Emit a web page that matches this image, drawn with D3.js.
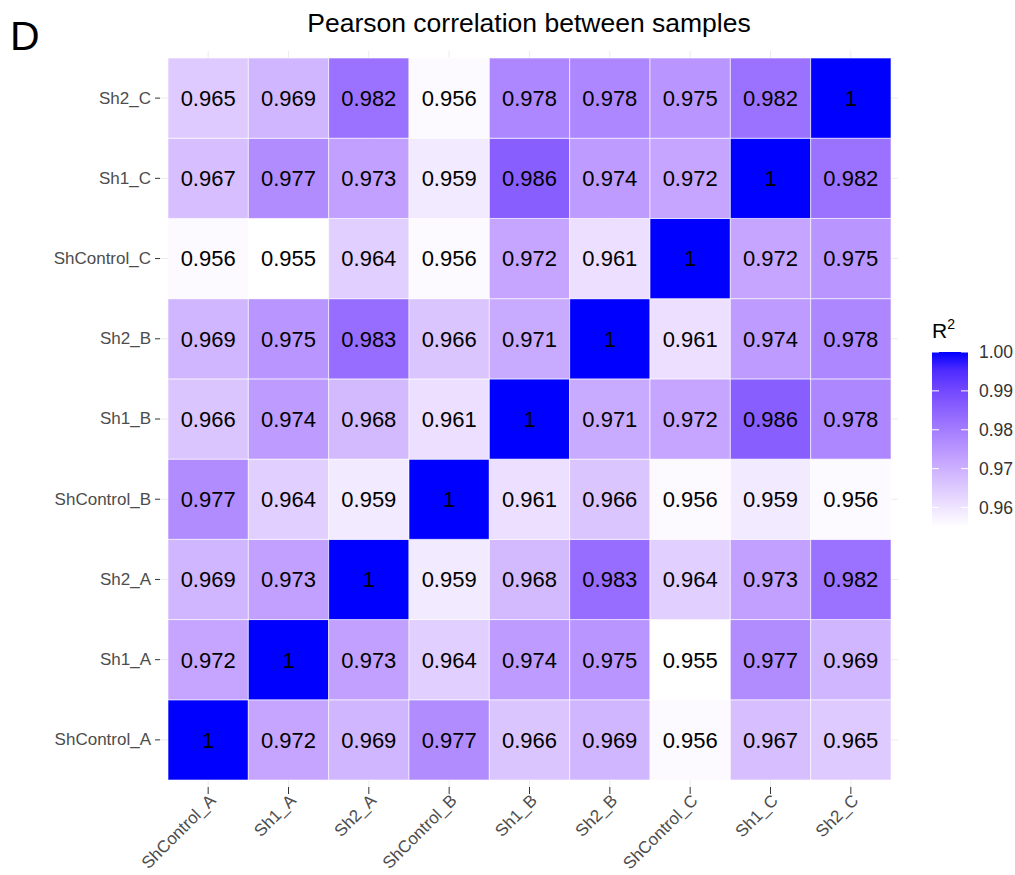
<!DOCTYPE html>
<meta charset="utf-8">
<style>
body { margin: 0; background: #fff; font-family: "Liberation Sans", Arial, sans-serif; }
.grid line { stroke: #ebebeb; stroke-width: 1px; }
.axis text { fill: #4d4d4d; font-size: 17px; }
.axis line { stroke: #333; }
</style>
<body>
<script src="https://d3js.org/d3.v7.min.js"></script>
<script>
// sample names, same order on both axes (y from bottom to top)
var samples = ["ShControl_A", "Sh1_A", "Sh2_A", "ShControl_B", "Sh1_B", "Sh2_B", "ShControl_C", "Sh1_C", "Sh2_C"];

// correlation rows, one per sample, columns in the same order
var rowShControl_A = [1, 0.972, 0.969, 0.977, 0.966, 0.969, 0.956, 0.967, 0.965];
var rowSh1_A       = [0.972, 1, 0.973, 0.964, 0.974, 0.975, 0.955, 0.977, 0.969];
var rowSh2_A       = [0.969, 0.973, 1, 0.959, 0.968, 0.983, 0.964, 0.973, 0.982];
var rowShControl_B = [0.977, 0.964, 0.959, 1, 0.961, 0.966, 0.956, 0.959, 0.956];
var rowSh1_B       = [0.966, 0.974, 0.968, 0.961, 1, 0.971, 0.972, 0.986, 0.978];
var rowSh2_B       = [0.969, 0.975, 0.983, 0.966, 0.971, 1, 0.961, 0.974, 0.978];
var rowShControl_C = [0.956, 0.955, 0.964, 0.956, 0.972, 0.961, 1, 0.972, 0.975];
var rowSh1_C       = [0.967, 0.977, 0.973, 0.959, 0.986, 0.974, 0.972, 1, 0.982];
var rowSh2_C       = [0.965, 0.969, 0.982, 0.956, 0.978, 0.978, 0.975, 0.982, 1];
var rows = [rowShControl_A, rowSh1_A, rowSh2_A, rowShControl_B, rowSh1_B, rowSh2_B, rowShControl_C, rowSh1_C, rowSh2_C];

var legendTicks = [0.96, 0.97, 0.98, 0.99, 1.00];

var cells = [];
rows.forEach(function(r, i) {
  r.forEach(function(v, j) {
    cells.push({row: samples[i], col: samples[j], value: v});
  });
});

var svg = d3.select("body").append("svg").attr("width", 1015).attr("height", 875);

// panel area
var tileL = 168, tileR = 891, tileT = 58, tileB = 780;
var panL = 160, panR = 898, panT = 51, panB = 787;

var x = d3.scaleBand().domain(samples).range([tileL, tileR]);
var y = d3.scaleBand().domain(samples).range([tileB, tileT]);

var vmin = d3.min(cells, d => d.value), vmax = d3.max(cells, d => d.value);
var color = d3.scaleLinear().domain([vmin, vmax]).range(["white", "blue"]).interpolate(d3.interpolateLab);

// grid lines
var grid = svg.append("g").attr("class", "grid");
grid.selectAll(".gx").data(samples).join("line")
  .attr("x1", d => x(d) + x.bandwidth() / 2).attr("x2", d => x(d) + x.bandwidth() / 2)
  .attr("y1", panT).attr("y2", panB);
grid.selectAll(".gy").data(samples).join("line")
  .attr("y1", d => y(d) + y.bandwidth() / 2).attr("y2", d => y(d) + y.bandwidth() / 2)
  .attr("x1", panL).attr("x2", panR);

// tiles
svg.append("g").selectAll("rect").data(cells).join("rect")
  .attr("x", d => x(d.col)).attr("y", d => y(d.row))
  .attr("width", x.bandwidth()).attr("height", y.bandwidth())
  .attr("fill", d => color(d.value))
  .attr("stroke", "white").attr("stroke-opacity", 0.6).attr("stroke-width", 1);

svg.append("g").selectAll("text").data(cells).join("text")
  .attr("x", d => x(d.col) + x.bandwidth() / 2)
  .attr("y", d => y(d.row) + y.bandwidth() / 2)
  .attr("dy", "0.36em")
  .attr("text-anchor", "middle")
  .style("font-size", "22px").style("fill", "#000")
  .text(d => d.value === 1 ? "1" : d3.format(".3f")(d.value));

// axes
var xAxis = svg.append("g").attr("class", "axis").attr("transform", "translate(0," + panB + ")")
  .call(d3.axisBottom(x).tickSize(7).tickPadding(4));
xAxis.select(".domain").remove();
xAxis.selectAll("text")
  .attr("text-anchor", "end")
  .attr("transform", "translate(0,6) rotate(-45)")
  .attr("dy", "0.71em").attr("y", 0).attr("x", 0);

var yAxis = svg.append("g").attr("class", "axis").attr("transform", "translate(" + panL + ",0)")
  .call(d3.axisLeft(y).tickSize(5).tickPadding(4));
yAxis.select(".domain").remove();

// title and panel tag
svg.append("text").attr("x", (panL + panR) / 2).attr("y", 32)
  .attr("text-anchor", "middle").style("font-size", "26.5px").text("Pearson correlation between samples");
svg.append("text").attr("x", 10).attr("y", 50).style("font-size", "41px").text("D");

// colour legend
var legTop = 352, legBot = 527, legX = 932, legW = 36;
var ly = d3.scaleLinear().domain([vmin, vmax]).range([legBot, legTop]);
var defs = svg.append("defs");
var grad = defs.append("linearGradient").attr("id", "lg").attr("x1", 0).attr("x2", 0).attr("y1", 1).attr("y2", 0);
d3.range(0, 1.0001, 0.1).forEach(function(t) {
  grad.append("stop").attr("offset", t).attr("stop-color", color(vmin + t * (vmax - vmin)));
});
svg.append("rect").attr("x", legX).attr("y", legTop).attr("width", legW).attr("height", legBot - legTop)
  .attr("fill", "url(#lg)");
var lt = svg.append("g");
lt.selectAll(".tl").data(legendTicks).join("line")
  .attr("x1", legX).attr("x2", legX + 7).attr("y1", d => ly(d)).attr("y2", d => ly(d))
  .attr("stroke", "white").attr("stroke-width", 1);
lt.selectAll(".tr").data(legendTicks).join("line")
  .attr("x1", legX + legW - 7).attr("x2", legX + legW).attr("y1", d => ly(d)).attr("y2", d => ly(d))
  .attr("stroke", "white").attr("stroke-width", 1);
lt.selectAll("text").data(legendTicks).join("text")
  .attr("x", legX + legW + 11).attr("y", d => ly(d)).attr("dy", "0.36em")
  .style("font-size", "17.5px").style("fill", "#333")
  .text(d => d3.format(".2f")(d));

var lTitle = svg.append("text").attr("x", legX).attr("y", 338).style("font-size", "21px");
lTitle.append("tspan").text("R");
lTitle.append("tspan").attr("dy", -9).style("font-size", "14px").text("2");
</script>
</body>
